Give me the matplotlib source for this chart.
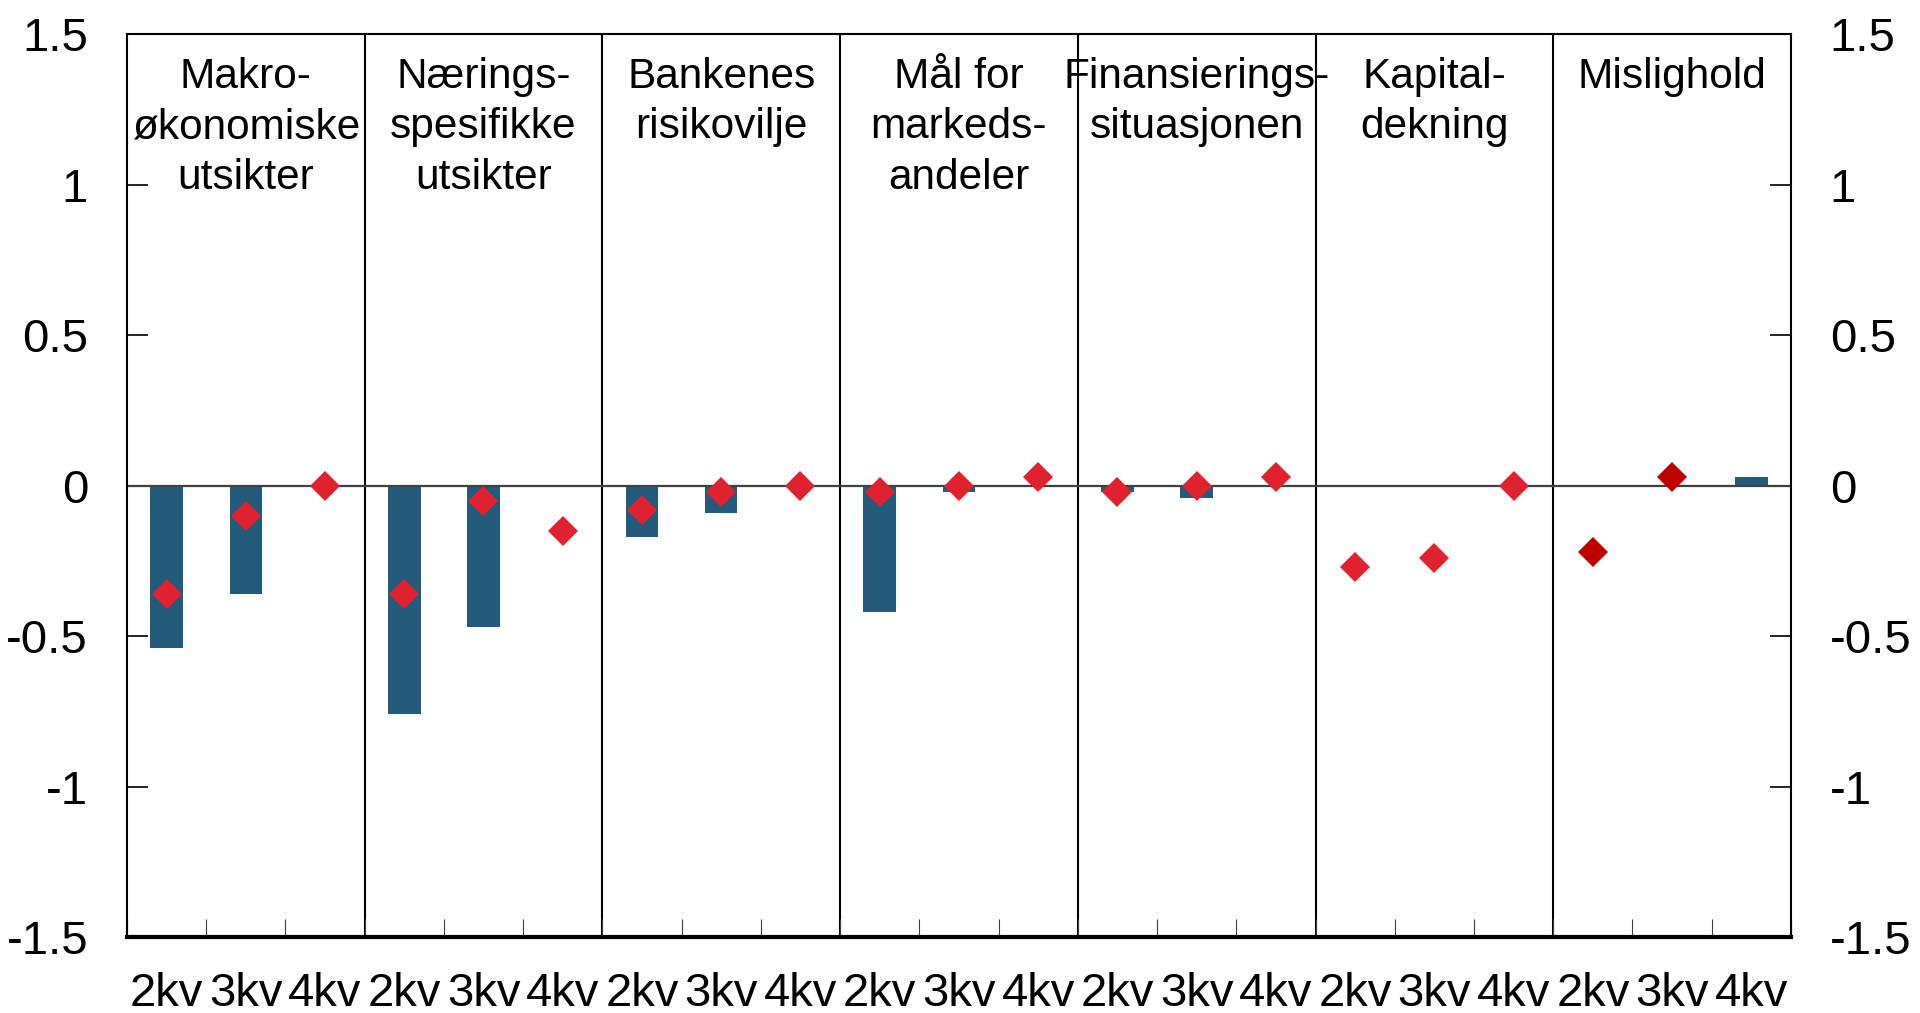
import numpy as np
import matplotlib
matplotlib.use("Agg")
import matplotlib.pyplot as plt

plt.rcParams['font.family'] = ['Liberation Sans', 'DejaVu Sans']

groups = ["Makro-\nøkonomiske\nutsikter", "Nærings-\nspesifikke\nutsikter", "Bankenes\nrisikovilje",
          "Mål for\nmarkeds-\nandeler", "Finansierings-\nsituasjonen", "Kapital-\ndekning", "Mislighold"]
quarters = ["2kv", "3kv", "4kv"]

bar_values = [-0.54, -0.36, np.nan,
              -0.76, -0.47, np.nan,
              -0.17, -0.09, np.nan,
              -0.42, -0.02, np.nan,
              -0.02, -0.04, np.nan,
              np.nan, np.nan, np.nan,
              np.nan, np.nan, 0.03]
diamond_values = [-0.36, -0.10, 0.0,
                  -0.36, -0.05, -0.15,
                  -0.08, -0.02, 0.0,
                  -0.02, 0.0, 0.03,
                  -0.02, 0.0, 0.03,
                  -0.27, -0.24, 0.0,
                  -0.22, 0.03, np.nan]
diamond_group_colors = ["#E0212F", "#E0212F", "#E0212F", "#E0212F", "#E0212F", "#E0212F", "#C00000"]
y_ticks = [-1.5, -1, -0.5, 0, 0.5, 1, 1.5]
y_tick_labels = ["-1.5", "-1", "-0.5", "0", "0.5", "1", "1.5"]

n_per = len(quarters)
n = len(groups) * n_per
x = np.arange(n)
xlabels = quarters * len(groups)

fig = plt.figure(figsize=(19.2, 10.13), dpi=100)
ax = fig.add_axes([0.0661, 0.075, 0.8667, 0.8914])

ax.bar(x, bar_values, width=0.41, color="#245B7B", zorder=2)
for g in range(len(groups)):
    sl = slice(g * n_per, (g + 1) * n_per)
    ax.plot(x[sl], diamond_values[sl], linestyle="none", marker="D", markersize=15,
            color=diamond_group_colors[g], markeredgewidth=0, zorder=3)

ax.set_xlim(-0.5, n - 0.5)
ax.set_ylim(-1.5, 1.5)
ax.axhline(0, color="#404040", lw=1.6, zorder=2.5)

for g in range(1, len(groups)):
    ax.axvline(g * n_per - 0.5, color="black", lw=1.5, zorder=1)

for g, name in enumerate(groups):
    ax.text(g * n_per + 1, 1.425, name, ha="center", va="top", fontsize=30.5,
            linespacing=1.35, multialignment="center", zorder=4)

ax.set_yticks(y_ticks)
ax.set_yticklabels(y_tick_labels)
ax.tick_params(axis="y", direction="in", length=15, width=1.2, labelsize=34,
               left=True, right=True, labelleft=True, labelright=True, pad=28)

ax.set_xticks(x)
ax.set_xticklabels(xlabels)
ax.set_xticks(np.arange(-0.5, n, 1), minor=True)
ax.tick_params(axis="x", which="major", length=0, labelsize=34, pad=25)
ax.tick_params(axis="x", which="minor", direction="in", length=13, width=0.8, color="#404040")

for s in ["left", "right", "top"]:
    ax.spines[s].set_linewidth(1.5)
ax.spines["bottom"].set_linewidth(3)

fig.savefig("out.png", dpi=100)
